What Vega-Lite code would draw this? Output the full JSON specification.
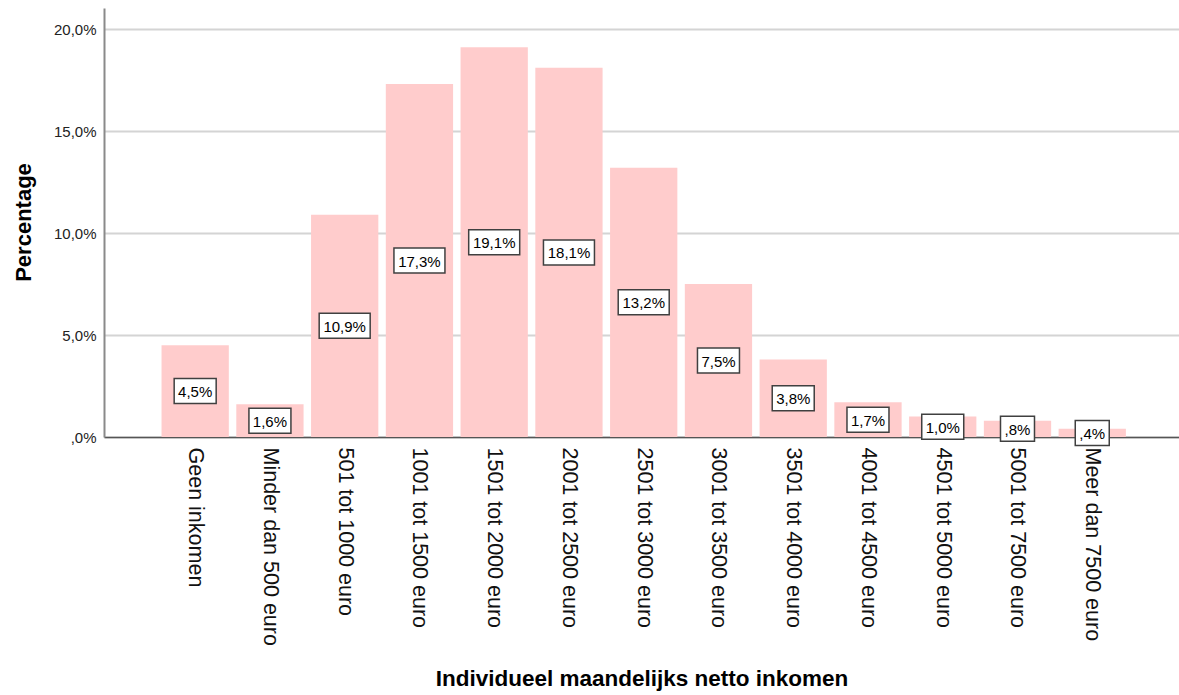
{
  "$schema": "https://vega.github.io/schema/vega-lite/v6.json",
  "width": 1075,
  "height": 429,
  "autosize": {"type": "none"},
  "padding": {"left": 104, "top": 8, "right": 0, "bottom": 258},
  "background": "white",
  "config": {"view": {"stroke": null}, "font": "Liberation Sans"},
  "data": {
    "values": [
      {"cat": "Geen inkomen", "pct": 4.5},
      {"cat": "Minder dan 500 euro", "pct": 1.6},
      {"cat": "501 tot 1000 euro", "pct": 10.9},
      {"cat": "1001 tot 1500 euro", "pct": 17.3},
      {"cat": "1501 tot 2000 euro", "pct": 19.1},
      {"cat": "2001 tot 2500 euro", "pct": 18.1},
      {"cat": "2501 tot 3000 euro", "pct": 13.2},
      {"cat": "3001 tot 3500 euro", "pct": 7.5},
      {"cat": "3501 tot 4000 euro", "pct": 3.8},
      {"cat": "4001 tot 4500 euro", "pct": 1.7},
      {"cat": "4501 tot 5000 euro", "pct": 1.0},
      {"cat": "5001 tot 7500 euro", "pct": 0.8},
      {"cat": "Meer dan 7500 euro", "pct": 0.4}
    ]
  },
  "transform": [
    {"calculate": "replace(format(datum.pct, '.1f'), '.', ',')", "as": "s"},
    {"calculate": "(datum.pct < 1 ? substring(datum.s, 1) : datum.s) + '%'", "as": "label"},
    {"calculate": "length(datum.label)", "as": "len"},
    {"calculate": "datum.pct / 2", "as": "mid"}
  ],
  "encoding": {
    "x": {
      "field": "cat",
      "type": "nominal",
      "sort": null,
      "scale": {"paddingInner": 0.1, "paddingOuter": 0.74, "align": 0.52},
      "axis": {
        "title": "Individueel maandelijks netto inkomen",
        "labelAngle": 90,
        "labelAlign": "left",
        "labelBaseline": "middle",
        "labelFontSize": 21.5,
        "labelColor": "#111111",
        "labelPadding": 10,
        "labelLimit": 400,
        "labelOverlap": false,
        "ticks": false,
        "domainColor": "#555555",
        "domainWidth": 1.5,
        "titleFontSize": 22.5,
        "titleFontWeight": "bold",
        "titleColor": "#000000",
        "titleY": 248,
        "titleBaseline": "alphabetic"
      }
    }
  },
  "layer": [
    {
      "mark": {"type": "bar", "color": "#ffcccc"},
      "encoding": {
        "y": {
          "field": "pct",
          "type": "quantitative",
          "scale": {"domain": [0, 21.03], "nice": false},
          "axis": {
            "values": [0, 5, 10, 15, 20],
            "title": "Percentage",
            "labelExpr": "datum.value == 0 ? ',0%' : replace(format(datum.value, '.1f'), '.', ',') + '%'",
            "ticks": false,
            "labelFontSize": 15,
            "labelColor": "#222222",
            "labelPadding": 8,
            "domainColor": "#8a8a8a",
            "domainWidth": 2,
            "gridColor": "#d4d4d4",
            "gridWidth": 2,
            "titleFontSize": 22,
            "titleFontWeight": "bold",
            "titleColor": "#000000",
            "titleAngle": -90,
            "titleX": -81,
            "titleY": 214,
            "titleAlign": "center",
            "titleBaseline": "middle"
          }
        }
      }
    },
    {
      "mark": {"type": "point", "filled": true, "fill": "white", "stroke": "#404040", "strokeWidth": 1.5, "opacity": 1, "size": 2500},
      "encoding": {
        "y": {"field": "mid", "type": "quantitative"},
        "shape": {
          "field": "len",
          "type": "nominal",
          "scale": {
            "domain": [3, 4, 5],
            "range": [
              "M-0.68,-0.5L0.68,-0.5L0.68,0.5L-0.68,0.5Z",
              "M-0.84,-0.5L0.84,-0.5L0.84,0.5L-0.84,0.5Z",
              "M-1.02,-0.5L1.02,-0.5L1.02,0.5L-1.02,0.5Z"
            ]
          },
          "legend": null
        }
      }
    },
    {
      "mark": {"type": "text", "fontSize": 15, "color": "#000000", "baseline": "middle", "dy": 1},
      "encoding": {
        "y": {"field": "mid", "type": "quantitative"},
        "text": {"field": "label"}
      }
    }
  ]
}
